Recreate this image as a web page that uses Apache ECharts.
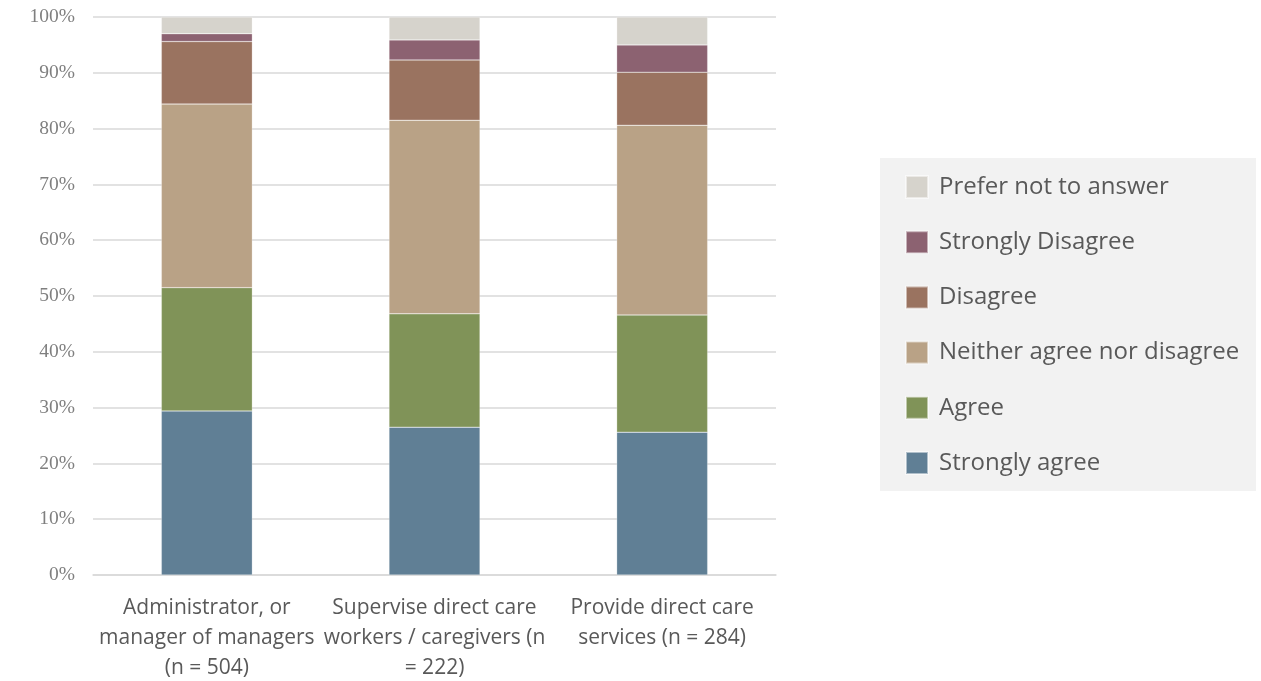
<!DOCTYPE html>
<html><head><meta charset="utf-8">
<script src="https://cdn.jsdelivr.net/npm/echarts@6/dist/echarts.min.js"></script>
<style>html,body{margin:0;padding:0;background:#fff}#c{width:1261px;height:681px}</style>
</head><body><div id="c"></div>
<script>
const categories = ["Administrator, or\nmanager of managers\n(n = 504)", "Supervise direct care\nworkers / caregivers (n\n= 222)", "Provide direct care\nservices (n = 284)"];
const stronglyAgree = [29.4, 26.5, 25.6];
const agree = [22.1, 20.3, 21.0];
const neither = [32.9, 34.7, 34.0];
const disagree = [11.2, 10.8, 9.5];
const stronglyDisagree = [1.4, 3.6, 4.9];
const preferNot = [3.0, 4.1, 5.0];
const seriesNames = ["Strongly agree", "Agree", "Neither agree nor disagree", "Disagree", "Strongly Disagree", "Prefer not to answer"];
const seriesData = [stronglyAgree, agree, neither, disagree, stronglyDisagree, preferNot];
const colors = ["#607f95", "#809358", "#b9a286", "#9a7360", "#8c6271", "#d6d3cc"];

const chart = echarts.init(document.getElementById('c'));
chart.setOption({
  animation: false,
  graphic: [{type: 'rect', left: 880, top: 158, shape: {width: 376, height: 333}, style: {fill: '#f2f2f2'}, z: -1}],
  grid: {left: 93, right: 485, top: 17, bottom: 106, outerBoundsMode: 'none', containLabel: false},
  legend: {
    orient: 'vertical', left: 905, top: 175, padding: 0,
    itemWidth: 22, itemHeight: 22, itemGap: 31.2,
    icon: 'rect',
    data: seriesNames.slice().reverse(),
    textStyle: {fontFamily: 'Open Sans', fontSize: 24, color: '#595959', padding: [0, 0, 0, 6]}
  },
  xAxis: {
    type: 'category', data: categories,
    axisLine: {lineStyle: {color: '#d9d9d9', width: 1.5}},
    axisTick: {show: false},
    axisLabel: {fontFamily: 'Open Sans', fontSize: 21, color: '#595959', lineHeight: 30, margin: 18, interval: 0}
  },
  yAxis: {
    type: 'value', min: 0, max: 100, interval: 10,
    axisLabel: {formatter: '{value}%', fontFamily: 'Liberation Serif', fontSize: 19.5, color: '#7f7f7f', margin: 18},
    axisLine: {show: false}, axisTick: {show: false},
    splitLine: {lineStyle: {color: '#d9d9d9', width: 1.5}}
  },
  series: seriesData.map((d, i) => ({
    name: seriesNames[i], type: 'bar', stack: 'total', data: d,
    barWidth: 91,
    itemStyle: {color: colors[i], borderColor: 'rgba(255,255,255,0.5)', borderWidth: 0.5}
  }))
});
</script></body></html>
